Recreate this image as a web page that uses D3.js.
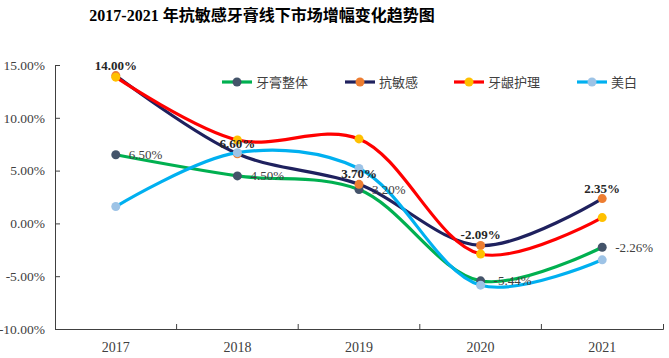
<!DOCTYPE html>
<html>
<head>
<meta charset="utf-8">
<script src="https://cdn.jsdelivr.net/npm/d3@7"></script>
<style>
  body { margin: 0; background: #fff; }
  svg { display: block; }
  .serif { font-family: "Liberation Serif", "Times New Roman", "Noto Sans CJK SC", serif; }
</style>
</head>
<body>
<div id="chart"></div>
<script>
// values
var years = ["2017", "2018", "2019", "2020", "2021"];
var yTicks = [15, 10, 5, 0, -5, -10];
var seriesNames = ["牙膏整体", "抗敏感", "牙龈护理", "美白"];
var overall = [6.50, 4.50, 3.20, -5.44, -2.26];
var sensitive = [14.00, 6.60, 3.70, -2.09, 2.35];
var gum = [13.85, 7.90, 8.00, -2.90, 0.55];
var whitening = [1.60, 6.70, 5.20, -5.85, -3.45];

var lineColors = ["#00b050", "#1f215e", "#ff0000", "#00b0f0"];
var markerColors = ["#44546a", "#ed7d31", "#ffc000", "#9dc3e6"];

var series = [overall, sensitive, gum, whitening].map(function(vals, i) {
    return { name: seriesNames[i], values: vals, line: lineColors[i], marker: markerColors[i] };
});

var width = 669, height = 358;
var plotLeft = 55, plotRight = 663, plotTop = 65, plotBottom = 329;

var svg = d3.select("#chart").append("svg")
    .attr("width", width)
    .attr("height", height);

var x = d3.scaleBand().domain(years).range([plotLeft, plotRight]).padding(0);
var y = d3.scaleLinear().domain([-10, 15]).range([plotBottom, plotTop]);
var cx = function(i) { return x(years[i]) + x.bandwidth() / 2; };

// title
svg.append("text")
    .attr("class", "serif")
    .attr("x", 262)
    .attr("y", 21)
    .attr("text-anchor", "middle")
    .attr("font-size", 16)
    .attr("font-weight", "bold")
    .attr("fill", "#000")
    .text("2017-2021 年抗敏感牙膏线下市场增幅变化趋势图");

// y axis
var yAxis = svg.append("g")
    .attr("transform", "translate(" + plotLeft + ",0)")
    .call(d3.axisLeft(y).tickValues(yTicks).tickSizeInner(-5).tickSizeOuter(0).tickPadding(10)
        .tickFormat(function(d) { return d.toFixed(2) + "%"; }));
yAxis.selectAll("text").attr("class", "serif").attr("font-size", 13.5).attr("fill", "#404040");
yAxis.selectAll("line, path").attr("stroke", "#404040");

// x axis, ticks on the band edges
var xAxis = svg.append("g")
    .attr("transform", "translate(0," + plotBottom + ")")
    .call(d3.axisBottom(x).tickSizeInner(0).tickSizeOuter(-5).tickPadding(13));
xAxis.selectAll("text").attr("class", "serif").attr("font-size", 14).attr("fill", "#404040");
xAxis.select(".domain").attr("stroke", "#404040");
xAxis.selectAll(".edge")
    .data(years.slice(1))
    .enter().append("line")
    .attr("class", "edge")
    .attr("x1", function(d) { return x(d); })
    .attr("x2", function(d) { return x(d); })
    .attr("y1", 0)
    .attr("y2", -5)
    .attr("stroke", "#404040");

// lines + markers
var line = d3.line()
    .x(function(d, i) { return cx(i); })
    .y(function(d) { return y(d); })
    .curve(d3.curveCatmullRom.alpha(0.5));

series.forEach(function(s) {
    var g = svg.append("g");
    g.append("path")
        .attr("d", line(s.values))
        .attr("fill", "none")
        .attr("stroke", s.line)
        .attr("stroke-width", 3.2);
    g.selectAll("circle")
        .data(s.values)
        .enter().append("circle")
        .attr("cx", function(d, i) { return cx(i); })
        .attr("cy", function(d) { return y(d); })
        .attr("r", 4.5)
        .attr("fill", s.marker);
});

// data labels: bold above for 抗敏感, plain to the right for 牙膏整体
svg.append("g").selectAll("text")
    .data(sensitive)
    .enter().append("text")
    .attr("class", "serif")
    .attr("x", function(d, i) { return cx(i); })
    .attr("y", function(d) { return y(d) - 6; })
    .attr("text-anchor", "middle")
    .attr("font-size", 13)
    .attr("font-weight", "bold")
    .attr("fill", "#262626")
    .text(function(d) { return d.toFixed(2) + "%"; });

svg.append("g").selectAll("text")
    .data(overall)
    .enter().append("text")
    .attr("class", "serif")
    .attr("x", function(d, i) { return cx(i) + 13; })
    .attr("y", function(d) { return y(d); })
    .attr("dy", "0.35em")
    .attr("font-size", 13)
    .attr("fill", "#404040")
    .text(function(d) { return d.toFixed(2) + "%"; });

// legend
var legendX = [222, 345, 454, 577];
var legend = svg.append("g").selectAll("g")
    .data(series)
    .enter().append("g")
    .attr("transform", function(d, i) { return "translate(" + legendX[i] + ",82)"; });
legend.append("line")
    .attr("x1", 0).attr("x2", 30)
    .attr("stroke", function(d) { return d.line; })
    .attr("stroke-width", 3.2);
legend.append("circle")
    .attr("cx", 15)
    .attr("r", 4.5)
    .attr("fill", function(d) { return d.marker; });
legend.append("text")
    .attr("x", 34)
    .attr("dy", "0.35em")
    .attr("font-family", "'Noto Sans CJK SC', sans-serif")
    .attr("font-size", 13)
    .attr("fill", "#404040")
    .text(function(d) { return d.name; });
</script>
</body>
</html>
